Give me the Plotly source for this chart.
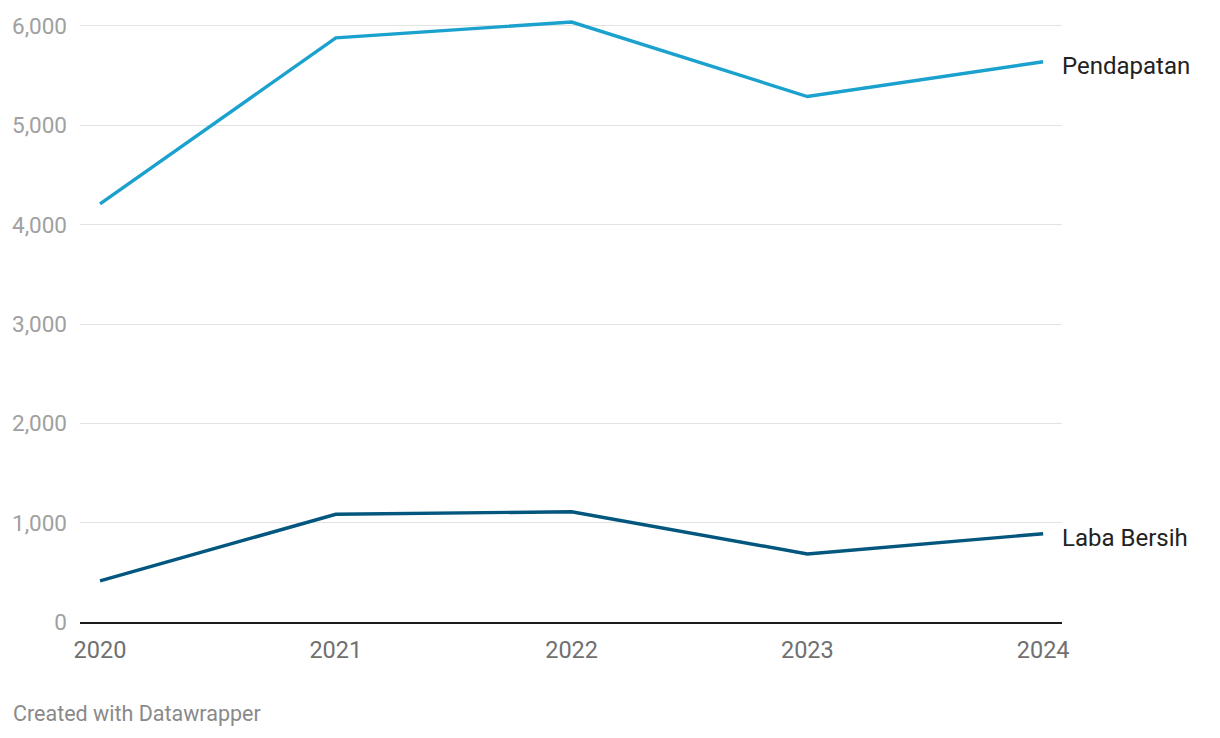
import plotly.graph_objects as go

# Data
years = [2020, 2021, 2022, 2023, 2024]
pendapatan = [4210, 5880, 6040, 5290, 5640]
laba_bersih = [415, 1084, 1110, 685, 889]

y_ticks = [0, 1000, 2000, 3000, 4000, 5000, 6000]
y_tick_labels = ['0', '1,000', '2,000', '3,000', '4,000', '5,000', '6,000']

series = [
    ('Pendapatan', pendapatan, '#1ba1ce'),
    ('Laba Bersih', laba_bersih, '#03577e'),
]

fig = go.Figure()

for name, values, color in series:
    fig.add_trace(go.Scatter(
        x=years,
        y=values,
        mode='lines',
        line=dict(color=color, width=3.4),
        name=name,
        showlegend=False,
        hoverinfo='x+y+name'
    ))
    # label at the end of each line
    fig.add_annotation(
        x=years[-1], y=values[-1],
        text=name,
        showarrow=False,
        xanchor='left', yanchor='middle',
        xshift=17, yshift=-4,
        font=dict(family='Roboto', size=24, color='#222222')
    )

fig.add_annotation(
    xref='paper', yref='paper',
    x=-0.0705, y=-0.149,
    text='Created with Datawrapper',
    showarrow=False,
    xanchor='left', yanchor='middle',
    font=dict(family='Roboto', size=21.5, color='#8a8a8a')
)

# the page body adds an 8px offset, so margins are shifted to compensate
fig.update_layout(
    width=1220, height=738,
    margin=dict(l=72, r=166, t=2, b=124),
    paper_bgcolor='white',
    plot_bgcolor='white',
    font=dict(family='Roboto'),
    xaxis=dict(
        range=[2019.915, 2024.08],
        tickvals=years,
        ticktext=[str(y) for y in years],
        showgrid=False,
        zeroline=False,
        showline=True,
        linecolor='#1a1a1a',
        linewidth=2,
        ticks='',
        ticklabelstandoff=6,
        tickfont=dict(family='Roboto', size=23.5, color='#707070')
    ),
    yaxis=dict(
        range=[0, 6161],
        tickvals=y_ticks,
        ticktext=y_tick_labels,
        showgrid=True,
        gridcolor='#e3e3e3',
        gridwidth=1,
        zeroline=False,
        showline=False,
        ticks='',
        ticklabelstandoff=12,
        tickfont=dict(family='Roboto', size=22.5, color='#a0a0a0')
    ),
    hovermode='x'
)

fig.write_html('out.html')
